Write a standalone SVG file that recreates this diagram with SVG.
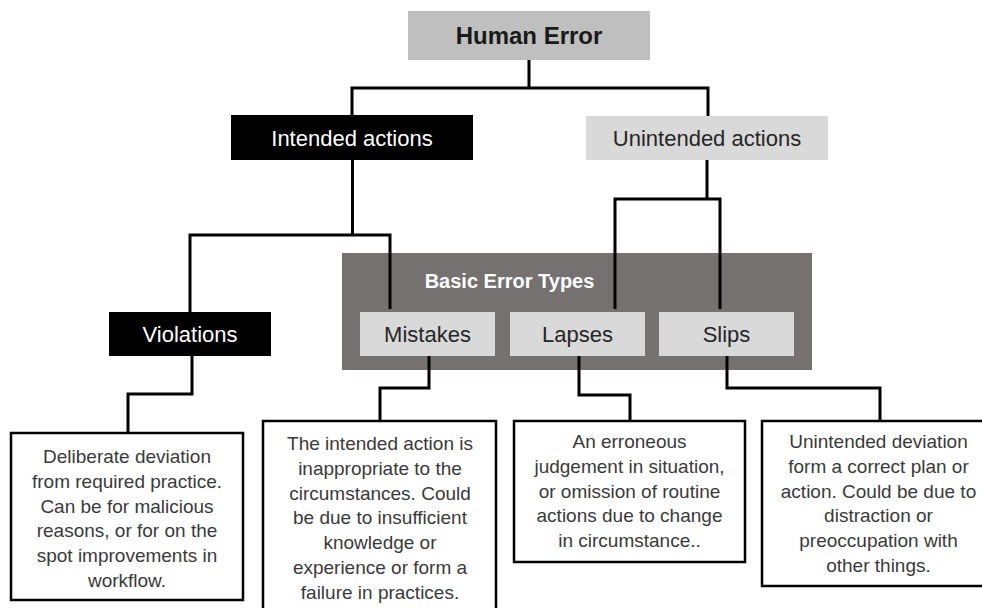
<svg xmlns="http://www.w3.org/2000/svg" width="982" height="608" viewBox="0 0 982 608">
<style>
text{font-family:"Liberation Sans",Arial,sans-serif;text-anchor:middle}
.lbl{font-size:22px;fill:#262626}
.wht{fill:#ffffff}
.body{font-size:19px;fill:#3a3a3a}
.desc{fill:#ffffff;stroke:#000;stroke-width:2.5}
.conn{fill:none;stroke:#000;stroke-width:3;stroke-linejoin:miter}
</style>
<rect width="982" height="608" fill="#ffffff"/>
<g id="human-error">
<rect x="408" y="11" width="242" height="49" fill="#bfbfbf"/>
<text x="529" y="44" style="font-size:24px;font-weight:bold" fill="#1a1a1a">Human Error</text>
</g>
<g id="intended">
<rect x="231" y="115" width="242" height="45" fill="#000"/>
<text class="lbl wht" x="352" y="145.5">Intended actions</text>
</g>
<g id="unintended">
<rect x="586" y="116" width="242" height="44" fill="#d9d9d9"/>
<text class="lbl" x="707" y="145.5">Unintended actions</text>
</g>
<g id="basic-error-types">
<rect x="342" y="253" width="470" height="117" fill="#767171"/>
<text x="509.5" y="288" style="font-size:20px;font-weight:bold" fill="#ffffff">Basic Error Types</text>
</g>
<g id="violations">
<rect x="109" y="312" width="162" height="44" fill="#000"/>
<text class="lbl wht" x="190" y="342">Violations</text>
</g>
<g id="mistakes">
<rect x="360" y="312" width="135" height="44" fill="#d9d9d9"/>
<text class="lbl" x="427.5" y="342">Mistakes</text>
</g>
<g id="lapses">
<rect x="510" y="312" width="135" height="44" fill="#d9d9d9"/>
<text class="lbl" x="577.5" y="342">Lapses</text>
</g>
<g id="slips">
<rect x="659" y="312" width="135" height="44" fill="#d9d9d9"/>
<text class="lbl" x="726.5" y="342">Slips</text>
</g>
<g id="desc-violations">
<rect class="desc" x="11" y="433" width="232" height="167"/>
<text class="body" x="127" y="463">Deliberate deviation</text>
<text class="body" x="127" y="487.8">from required practice.</text>
<text class="body" x="127" y="512.6">Can be for malicious</text>
<text class="body" x="127" y="537.4">reasons, or for on the</text>
<text class="body" x="127" y="562.2">spot improvements in</text>
<text class="body" x="127" y="587">workflow.</text>
</g>
<g id="desc-mistakes">
<rect class="desc" x="263" y="421" width="233" height="200"/>
<text class="body" x="380" y="450">The intended action is</text>
<text class="body" x="380" y="474.8">inappropriate to the</text>
<text class="body" x="380" y="499.6">circumstances. Could</text>
<text class="body" x="380" y="524.4">be due to insufficient</text>
<text class="body" x="380" y="549.2">knowledge or</text>
<text class="body" x="380" y="574">experience or form a</text>
<text class="body" x="380" y="598.8">failure in practices.</text>
</g>
<g id="desc-lapses">
<rect class="desc" x="514" y="421" width="231" height="141"/>
<text class="body" x="629.5" y="448">An erroneous</text>
<text class="body" x="629.5" y="472.8">judgement in situation,</text>
<text class="body" x="629.5" y="497.6">or omission of routine</text>
<text class="body" x="629.5" y="522.4">actions due to change</text>
<text class="body" x="629.5" y="547.2">in circumstance..</text>
</g>
<g id="desc-slips">
<rect class="desc" x="762" y="421" width="234" height="165"/>
<text class="body" x="878.5" y="448">Unintended deviation</text>
<text class="body" x="878.5" y="472.8">form a correct plan or</text>
<text class="body" x="878.5" y="497.6">action. Could be due to</text>
<text class="body" x="878.5" y="522.4">distraction or</text>
<text class="body" x="878.5" y="547.2">preoccupation with</text>
<text class="body" x="878.5" y="572">other things.</text>
</g>
<g id="connectors">
<path class="conn" d="M529 60 V88 M352 115 V88 H708 V116"/>
<path class="conn" d="M352.5 160 V235 M190 312 V235 H390 V309"/>
<path class="conn" d="M707 160 V199 M615 309 V199 H720 V309"/>
<path class="conn" d="M192 356 V394 H128 V433"/>
<path class="conn" d="M429 356 V388 H380 V421"/>
<path class="conn" d="M579 356 V395 H630 V421"/>
<path class="conn" d="M727 356 V388 H880 V421"/>
</g>
</svg>
